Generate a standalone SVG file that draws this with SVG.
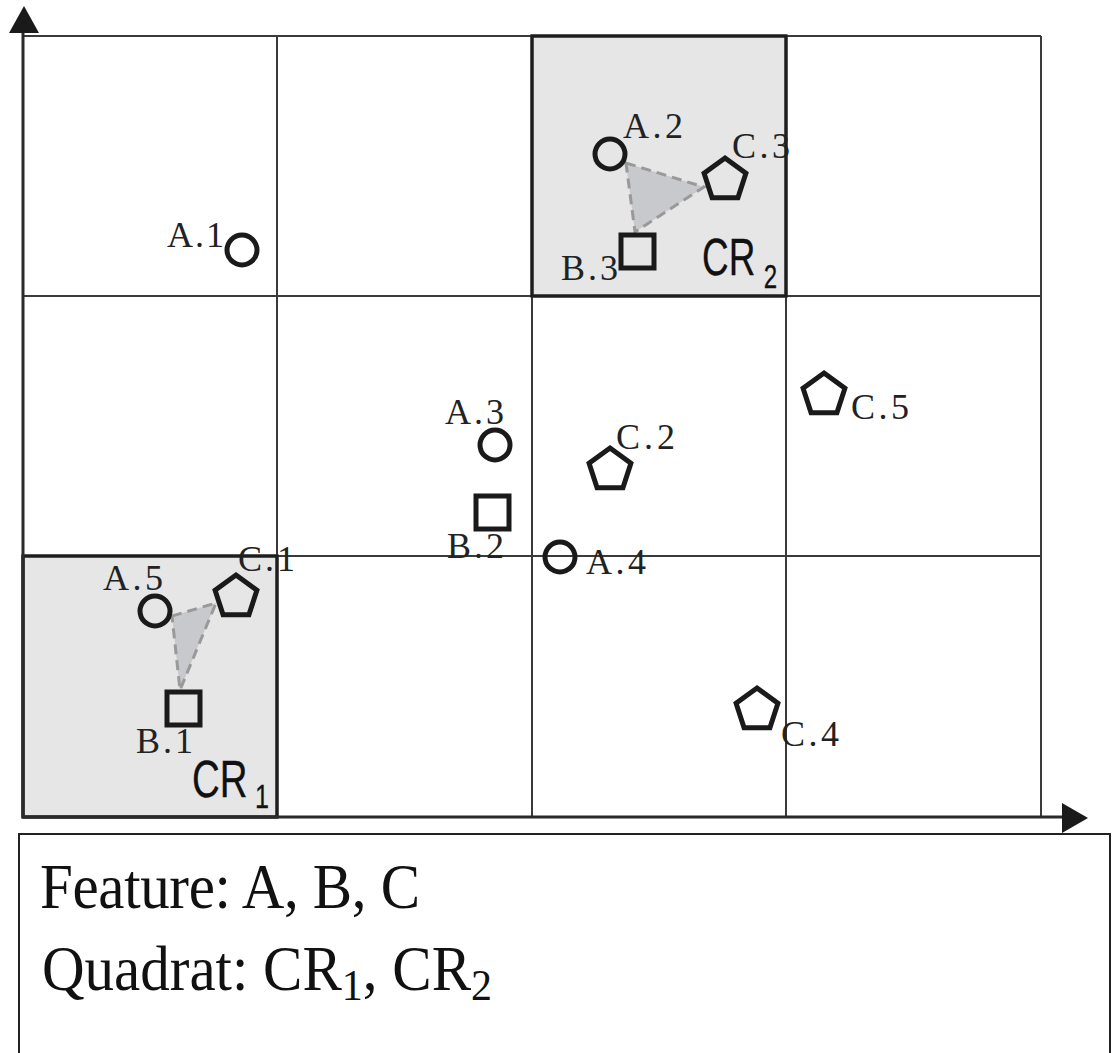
<svg xmlns="http://www.w3.org/2000/svg" xmlns:xlink="http://www.w3.org/1999/xlink" width="1115" height="1053" viewBox="0 0 1115 1053">
<style>
.grid{stroke:#3a3a3a;stroke-width:2;fill:none}
.quad{fill:#e6e6e6;stroke:#1e1e1e;stroke-width:3}
.edge{fill:none;stroke:#1e1e1e;stroke-width:3}
.sym{fill:none;stroke:#1a1a1a;stroke-width:5}
.tri{fill:#c8c9cc;stroke:#999;stroke-width:3;stroke-dasharray:10 6}
.lbl{font-family:"Liberation Serif","Times New Roman",serif;font-size:36px;fill:#222}
.cr{font-family:"Liberation Sans",Arial,sans-serif;font-size:52px;fill:#111;stroke:#111;stroke-width:0.3}
.leg{font-family:"Liberation Serif","Times New Roman",serif;font-size:59px;fill:#111}
</style>
<defs>
<path id="pent" d="M0,-22 L20.92,-6.8 L12.93,17.8 L-12.93,17.8 L-20.92,-6.8 Z"/>
</defs>
<rect width="1115" height="1053" fill="#fff"/>
<g id="quadrats">
<rect id="CR1-box" class="quad" x="23" y="556" width="254" height="261"/>
<rect id="CR2-box" class="quad" x="532" y="36" width="254" height="260"/>
</g>
<g id="grid">
<line class="grid" x1="23" y1="36" x2="1041" y2="36"/>
<line class="grid" x1="23" y1="296" x2="1041" y2="296"/>
<line class="grid" x1="23" y1="556" x2="1041" y2="556"/>
<line class="grid" x1="277" y1="36" x2="277" y2="817"/>
<line class="grid" x1="532" y1="36" x2="532" y2="817"/>
<line class="grid" x1="786" y1="36" x2="786" y2="817"/>
<line class="grid" x1="1041" y1="36" x2="1041" y2="817"/>
<rect class="edge" x="23" y="556" width="254" height="261"/>
<rect class="edge" x="532" y="36" width="254" height="260"/>
</g>
<g id="axes">
<line x1="23" y1="30" x2="23" y2="817" stroke="#2a2a2a" stroke-width="3"/>
<line x1="23" y1="817" x2="1065" y2="817" stroke="#2a2a2a" stroke-width="3"/>
<polygon points="24,6 9,33 39,33" fill="#1a1a1a"/>
<polygon points="1062,803 1088,818 1062,833" fill="#1a1a1a"/>
</g>
<g id="connectors">
<polygon id="tri-CR2" class="tri" points="626,163 704,187 635,232"/>
<polygon id="tri-CR1" class="tri" points="172,616 216,603 180,690"/>
</g>
<g id="A1"><circle class="sym" cx="242" cy="250" r="15"/><text class="lbl" x="167" y="247" textLength="57">A.1</text></g>
<g id="A2"><circle class="sym" cx="610" cy="154" r="15"/><text class="lbl" x="623" y="138" textLength="60">A.2</text></g>
<g id="A3"><circle class="sym" cx="495" cy="445" r="15"/><text class="lbl" x="445" y="424" textLength="59">A.3</text></g>
<g id="A4"><circle class="sym" cx="560" cy="557" r="15"/><text class="lbl" x="586" y="574" textLength="60">A.4</text></g>
<g id="A5"><circle class="sym" cx="155" cy="611" r="15"/><text class="lbl" x="103" y="590" textLength="60">A.5</text></g>
<g id="B1"><rect class="sym" x="167" y="692" width="33" height="33"/><text class="lbl" x="136" y="753" textLength="57">B.1</text></g>
<g id="B2"><rect class="sym" x="476" y="496" width="33" height="33"/><text class="lbl" x="447" y="558" textLength="57">B.2</text></g>
<g id="B3"><rect class="sym" x="621" y="235" width="33" height="33"/><text class="lbl" x="561" y="280" textLength="57">B.3</text></g>
<g id="C1"><use href="#pent" class="sym" x="236" y="597"/><text class="lbl" x="238" y="571" textLength="57">C.1</text></g>
<g id="C2"><use href="#pent" class="sym" x="610" y="470"/><text class="lbl" x="616" y="449" textLength="59">C.2</text></g>
<g id="C3"><use href="#pent" class="sym" x="725" y="180"/><text class="lbl" x="732" y="158" textLength="58">C.3</text></g>
<g id="C4"><use href="#pent" class="sym" x="757" y="710"/><text class="lbl" x="781" y="746" textLength="58">C.4</text></g>
<g id="C5"><use href="#pent" class="sym" x="824" y="395"/><text class="lbl" x="851" y="419" textLength="58">C.5</text></g>
<g id="CR1-label"><text class="cr" transform="translate(192,797) scale(0.74,1)">CR<tspan dx="10" dy="11" font-size="34">1</tspan></text></g>
<g id="CR2-label"><text class="cr" transform="translate(702,275) scale(0.71,1)">CR<tspan dx="12" dy="13" font-size="34">2</tspan></text></g>
<g id="legend">
<rect x="19" y="834" width="1091" height="240" fill="none" stroke="#222" stroke-width="2"/>
<text class="leg" transform="translate(40,908) scale(1,1.06)" textLength="380">Feature: A, B, C</text>
<text class="leg" transform="translate(42,990) scale(1,1.06)">Quadrat: CR<tspan font-size="42" dy="9">1</tspan><tspan dy="-9">, CR</tspan><tspan font-size="42" dy="9">2</tspan></text>
</g>
</svg>
